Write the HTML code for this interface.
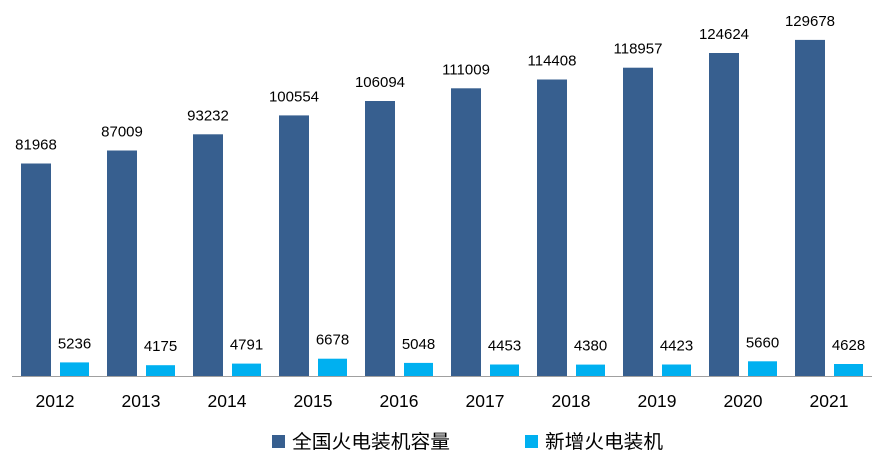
<!DOCTYPE html>
<html><head><meta charset="utf-8"><style>
html,body{margin:0;padding:0;background:#fff;}
svg{display:block;}
text{font-family:"Liberation Sans","Noto Sans CJK SC",sans-serif;fill:#000;}
.v{font-size:15px;text-anchor:middle;}
.y{font-size:17.5px;text-anchor:middle;}
.l{font-size:19px;}
</style></head><body>
<svg width="886" height="461" viewBox="0 0 886 461">
<g fill="#375F8F">
<rect x="21" y="163.5" width="30" height="212.5"/>
<rect x="107" y="150.5" width="30" height="225.5"/>
<rect x="193" y="134.3" width="30" height="241.7"/>
<rect x="279" y="115.4" width="30" height="260.6"/>
<rect x="365" y="101" width="30" height="275"/>
<rect x="451" y="88.3" width="30" height="287.7"/>
<rect x="537" y="79.5" width="30" height="296.5"/>
<rect x="623" y="67.7" width="30" height="308.3"/>
<rect x="709" y="53" width="30" height="323"/>
<rect x="795" y="39.9" width="30" height="336.1"/>
</g>
<g fill="#00B0F0">
<rect x="60" y="362.4" width="29" height="13.6"/>
<rect x="146" y="365.2" width="29" height="10.8"/>
<rect x="232" y="363.6" width="29" height="12.4"/>
<rect x="318" y="358.7" width="29" height="17.3"/>
<rect x="404" y="362.9" width="29" height="13.1"/>
<rect x="490" y="364.5" width="29" height="11.5"/>
<rect x="576" y="364.6" width="29" height="11.4"/>
<rect x="662" y="364.5" width="29" height="11.5"/>
<rect x="748" y="361.3" width="29" height="14.7"/>
<rect x="834" y="364" width="29" height="12"/>
</g>
<line x1="12" y1="376.5" x2="872" y2="376.5" stroke="#a0a0a0" stroke-width="1"/>
<g class="v">
<text x="36" y="149.5">81968</text>
<text x="122" y="136.5">87009</text>
<text x="208" y="120.3">93232</text>
<text x="294" y="101.4">100554</text>
<text x="380" y="87">106094</text>
<text x="466" y="74.3">111009</text>
<text x="552" y="65.5">114408</text>
<text x="638" y="53.7">118957</text>
<text x="724" y="39">124624</text>
<text x="810" y="25.9">129678</text>
<text x="74.5" y="348.4">5236</text>
<text x="160.5" y="351.2">4175</text>
<text x="246.5" y="349.6">4791</text>
<text x="332.5" y="344.7">6678</text>
<text x="418.5" y="348.9">5048</text>
<text x="504.5" y="350.5">4453</text>
<text x="590.5" y="350.6">4380</text>
<text x="676.5" y="350.5">4423</text>
<text x="762.5" y="347.3">5660</text>
<text x="848.5" y="350">4628</text>
</g>
<g class="y">
<text x="55" y="407">2012</text>
<text x="141" y="407">2013</text>
<text x="227" y="407">2014</text>
<text x="313" y="407">2015</text>
<text x="399" y="407">2016</text>
<text x="485" y="407">2017</text>
<text x="571" y="407">2018</text>
<text x="657" y="407">2019</text>
<text x="743" y="407">2020</text>
<text x="829" y="407">2021</text>
</g>
<rect x="272" y="435" width="13" height="13" fill="#375F8F"/>
<text class="l" x="292" y="448" textLength="158" lengthAdjust="spacingAndGlyphs">全国火电装机容量</text>
<rect x="525" y="435" width="13" height="13" fill="#00B0F0"/>
<text class="l" x="545" y="448" textLength="118" lengthAdjust="spacingAndGlyphs">新增火电装机</text>
</svg>
</body></html>
